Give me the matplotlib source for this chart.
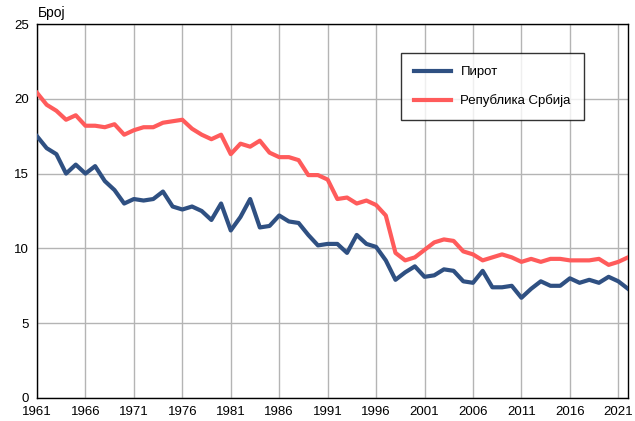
import matplotlib
matplotlib.use("Agg")
import matplotlib.pyplot as plt
import numpy as np

years = list(range(1961, 2023))
pirot = [17.5, 16.7, 16.3, 15.0, 15.6, 15.0, 15.5, 14.5, 13.9, 13.0,
         13.3, 13.2, 13.3, 13.8, 12.8, 12.6, 12.8, 12.5, 11.9, 13.0,
         11.2, 12.1, 13.3, 11.4, 11.5, 12.2, 11.8, 11.7, 10.9, 10.2,
         10.3, 10.3, 9.7, 10.9, 10.3, 10.1, 9.2, 7.9, 8.4, 8.8,
         8.1, 8.2, 8.6, 8.5, 7.8, 7.7, 8.5, 7.4, 7.4, 7.5,
         6.7, 7.3, 7.8, 7.5, 7.5, 8.0, 7.7, 7.9, 7.7, 8.1,
         7.8, 7.3]
srbija = [20.4, 19.6, 19.2, 18.6, 18.9, 18.2, 18.2, 18.1, 18.3, 17.6,
          17.9, 18.1, 18.1, 18.4, 18.5, 18.6, 18.0, 17.6, 17.3, 17.6,
          16.3, 17.0, 16.8, 17.2, 16.4, 16.1, 16.1, 15.9, 14.9, 14.9,
          14.6, 13.3, 13.4, 13.0, 13.2, 12.9, 12.2, 9.7, 9.2, 9.4,
          9.9, 10.4, 10.6, 10.5, 9.8, 9.6, 9.2, 9.4, 9.6, 9.4,
          9.1, 9.3, 9.1, 9.3, 9.3, 9.2, 9.2, 9.2, 9.3, 8.9,
          9.1, 9.4]
series_names = ["Пирот", "Република Србија"]
xticks = list(range(1961, 2022, 5))
yticks = [0, 5, 10, 15, 20, 25]

plt.rcParams['font.family'] = ['Liberation Sans', 'DejaVu Sans']

fig = plt.figure(figsize=(6.35, 4.21), dpi=100)
ax = fig.add_axes([37/635, 1 - 398/421, (628 - 37)/635, (398 - 24)/421])

ax.plot(years, pirot, color='#2f5082', lw=3.0, label=series_names[0], solid_joinstyle='round', zorder=3)
ax.plot(years, srbija, color='#ff5b5b', lw=3.0, label=series_names[1], solid_joinstyle='round', zorder=3)

ax.set_xlim(1961, 2022)
ax.set_ylim(0, 25)
ax.set_xticks(xticks)
ax.set_yticks(yticks)
ax.tick_params(axis='both', length=0, labelsize=9.5, pad=6, colors='black')
ax.grid(True, color='#b4b4b4', lw=1.0, zorder=0)
for s in ax.spines.values():
    s.set_color('black')
    s.set_linewidth(1.0)

fig.text(38/635, 1 - 13/421, "Број", fontsize=10, ha='left', va='center')

leg = ax.legend(loc='upper left', bbox_to_anchor=((401 - 37)/591, 1 - (53 - 24)/374),
                frameon=True, fancybox=False, edgecolor='black', fontsize=9.5,
                handlelength=2.8, handletextpad=0.7, borderpad=1.0, labelspacing=1.2,
                borderaxespad=0)
leg.get_frame().set_linewidth(1.0)

fig.savefig("out.png", dpi=100)
